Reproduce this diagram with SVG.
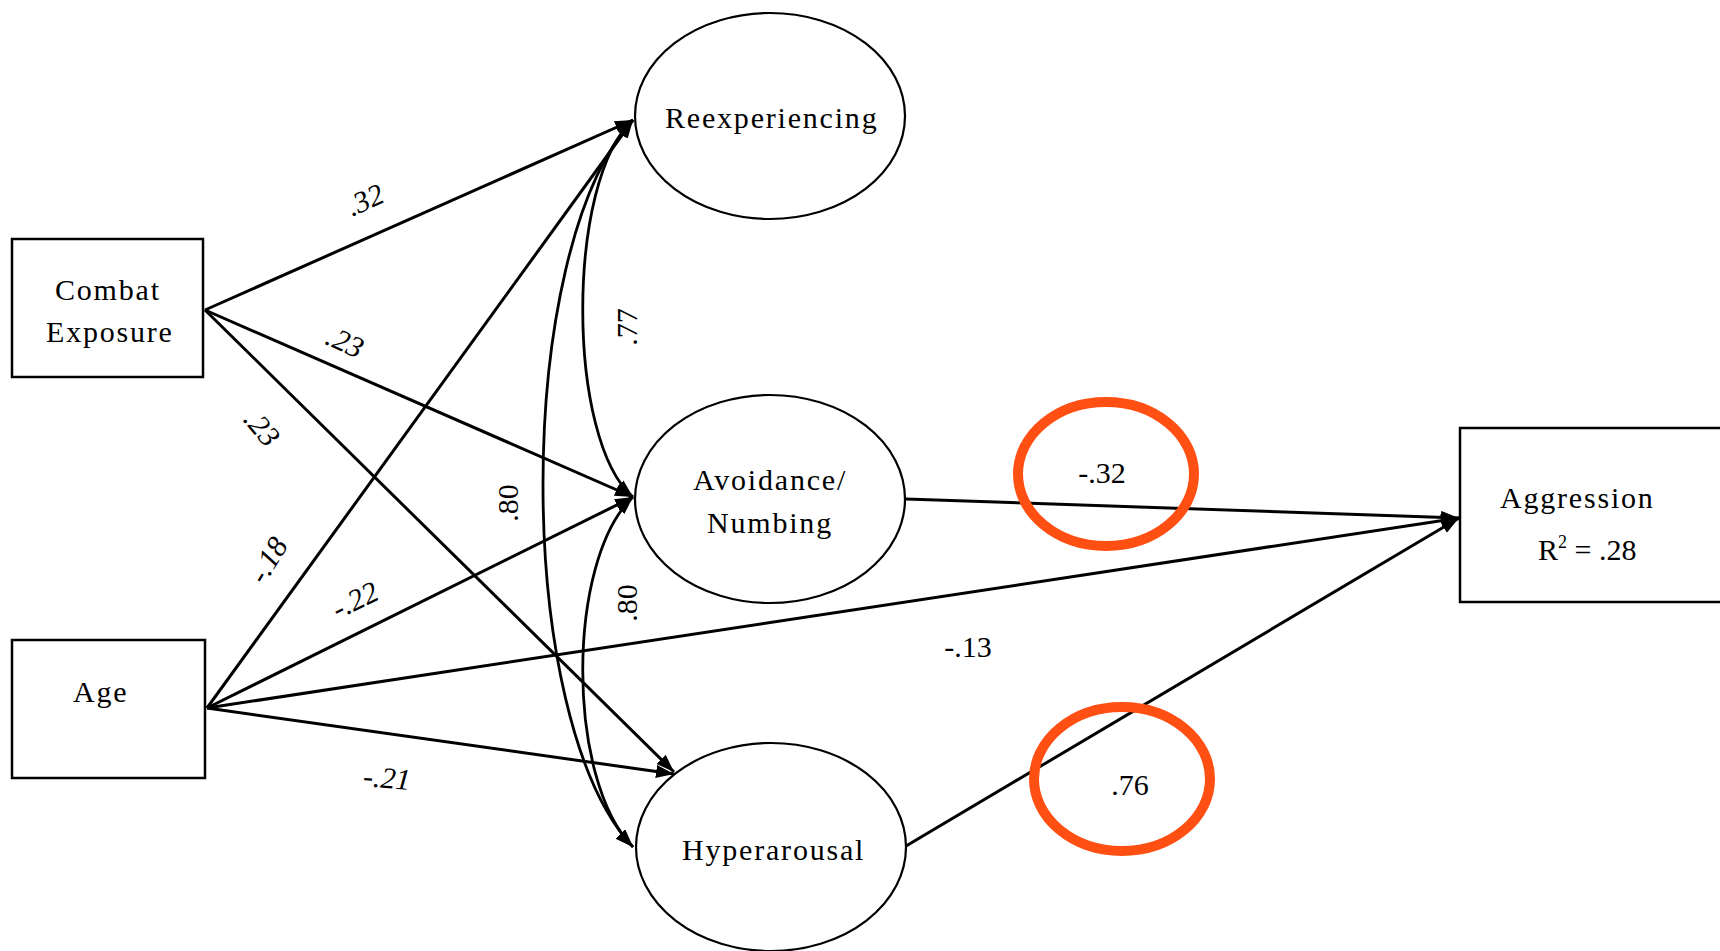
<svg xmlns="http://www.w3.org/2000/svg" width="1720" height="951" viewBox="0 0 1720 951">
<style>
.box{fill:#fff;stroke:#000;stroke-width:2.5}
.ell{fill:#fff;stroke:#000;stroke-width:2.2}
.lbl{font-family:"Liberation Serif","Times New Roman",serif;font-size:30px;fill:#000;letter-spacing:1.8px}
.num{font-family:"Liberation Serif","Times New Roman",serif;font-size:30px;fill:#000;text-anchor:middle}
.it{font-style:italic}
.ln{fill:none;stroke:#000;stroke-width:3}
.cv{fill:none;stroke:#000;stroke-width:2.8}
.hl{fill:none;stroke:#FF4F12;stroke-width:10}
</style>
<defs>
<marker id="ah" markerUnits="userSpaceOnUse" markerWidth="20" markerHeight="14" refX="18" refY="6.5" orient="auto-start-reverse">
<path d="M0,0 L18,6.5 L0,13 z" fill="#000"/>
</marker>
</defs>
<g id="connectors">
<line class="ln" x1="205" y1="310" x2="633" y2="120" marker-end="url(#ah)"/>
<line class="ln" x1="205" y1="310" x2="633" y2="497" marker-end="url(#ah)"/>
<line class="ln" x1="205" y1="310" x2="674" y2="772" marker-end="url(#ah)"/>
<line class="ln" x1="207" y1="708" x2="633" y2="120" marker-end="url(#ah)"/>
<line class="ln" x1="207" y1="708" x2="633" y2="497" marker-end="url(#ah)"/>
<line class="ln" x1="207" y1="708" x2="1459" y2="518" marker-end="url(#ah)"/>
<line class="ln" x1="207" y1="708" x2="674" y2="774" marker-end="url(#ah)"/>
<line class="ln" x1="906" y1="499" x2="1459" y2="518" marker-end="url(#ah)"/>
<line class="ln" x1="906" y1="846" x2="1459" y2="518" marker-end="url(#ah)"/>
<path class="cv" d="M633,120 C566,180 566,440 633,497" marker-start="url(#ah)" marker-end="url(#ah)"/>
<path class="cv" d="M633,120 C513,250 513,720 633,847" marker-start="url(#ah)" marker-end="url(#ah)"/>
<path class="cv" d="M633,497 C566,560 566,780 633,847" marker-start="url(#ah)" marker-end="url(#ah)"/>
</g>
<g id="labels">
<text class="num it" transform="translate(365,200) rotate(-24)" y="10">.32</text>
<text class="num it" transform="translate(345,342) rotate(24)" y="10">.23</text>
<text class="num it" transform="translate(262,428) rotate(50)" y="10">.23</text>
<text class="num it" transform="translate(268,560) rotate(-58)" y="10">-.18</text>
<text class="num it" transform="translate(355,600) rotate(-26)" y="10">-.22</text>
<text class="num it" transform="translate(387,778) rotate(5)" y="10">-.21</text>
<text class="num" x="968" y="657">-.13</text>
<text class="num" x="1102" y="483">-.32</text>
<text class="num" x="1130" y="795">.76</text>
<text class="num" transform="translate(627,327) rotate(-90)" y="10">.77</text>
<text class="num" transform="translate(508,503) rotate(-90)" y="10">.80</text>
<text class="num" transform="translate(627,603) rotate(-90)" y="10">.80</text>
</g>
<g id="node-combat">
<rect class="box" x="12" y="239" width="191" height="138"/>
<text class="lbl" x="55" y="300">Combat</text>
<text class="lbl" x="46" y="342">Exposure</text>
</g>
<g id="node-age">
<rect class="box" x="12" y="640" width="193" height="138"/>
<text class="lbl" x="73" y="702">Age</text>
</g>
<g id="node-reexperiencing">
<ellipse class="ell" cx="770" cy="116" rx="135" ry="103"/>
<text class="lbl" x="665" y="128">Reexperiencing</text>
</g>
<g id="node-avoidance">
<ellipse class="ell" cx="770" cy="499" rx="135" ry="104"/>
<text class="lbl" x="693" y="490">Avoidance/</text>
<text class="lbl" x="707" y="533">Numbing</text>
</g>
<g id="node-hyperarousal">
<ellipse class="ell" cx="771" cy="847" rx="135" ry="104"/>
<text class="lbl" x="682" y="860">Hyperarousal</text>
</g>
<g id="node-aggression">
<rect class="box" x="1460" y="428" width="280" height="174"/>
<text class="lbl" x="1500" y="508">Aggression</text>
<text class="lbl" x="1538" y="560" style="letter-spacing:0">R<tspan font-size="18" dy="-12">2</tspan><tspan dy="12"> = .28</tspan></text>
</g>
<g id="highlights">
<ellipse class="hl" cx="1106" cy="474" rx="88" ry="72"/>
<ellipse class="hl" cx="1122" cy="779" rx="88" ry="72"/>
</g>
</svg>
